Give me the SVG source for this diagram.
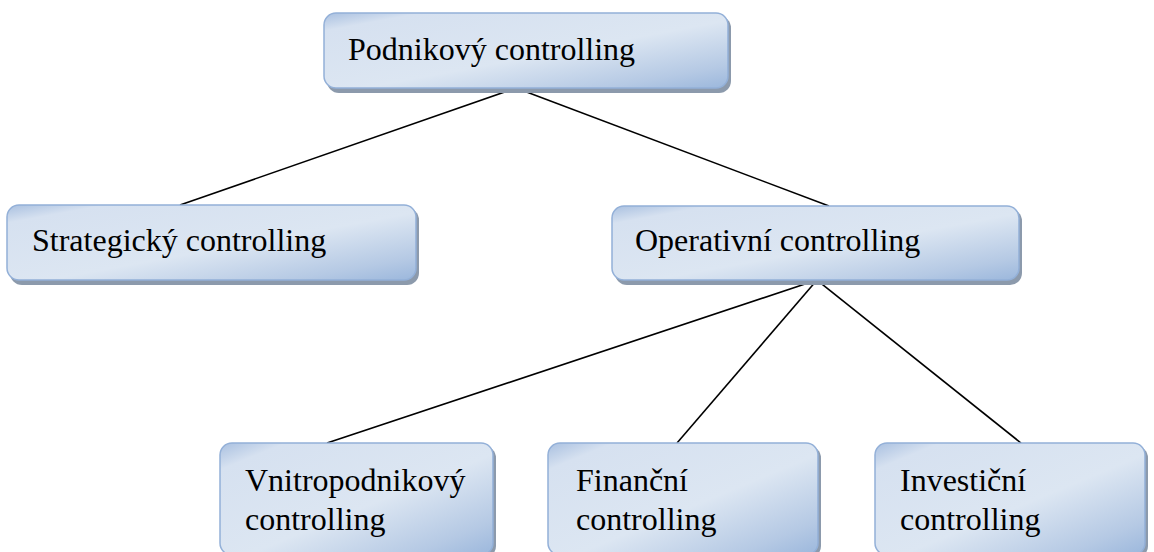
<svg xmlns="http://www.w3.org/2000/svg" width="1154" height="552" viewBox="0 0 1154 552">
<defs>
<linearGradient id="g" x1="0" y1="0" x2="1" y2="1">
<stop offset="0" stop-color="#a9c0e0"/>
<stop offset="0.12" stop-color="#d6e1f0"/>
<stop offset="0.55" stop-color="#dce6f2"/>
<stop offset="0.85" stop-color="#b5c9e4"/>
<stop offset="1" stop-color="#9bb7dc"/>
</linearGradient>
</defs>
<style>
.box{fill:url(#g);stroke:#93b0d8;stroke-width:1.5}
.sh{fill:#8c9aac}
.t{font-family:"Liberation Serif","Times New Roman",serif;font-size:32px;fill:#000}
.c{stroke:#000;stroke-width:1.6;fill:none}
</style>
<g id="connectors">
<line class="c" x1="516" y1="88" x2="180" y2="205"/>
<line class="c" x1="516" y1="88" x2="829" y2="206"/>
<line class="c" x1="817" y1="280" x2="327" y2="443"/>
<line class="c" x1="817" y1="280" x2="677" y2="443"/>
<line class="c" x1="817" y1="280" x2="1021" y2="443"/>
</g>
<g id="n1">
<rect class="sh" x="327" y="16" width="404" height="77" rx="12"/>
<rect class="box" x="324" y="13" width="404" height="75" rx="12"/>
<text class="t" x="348" y="60">Podnikový controlling</text>
</g>
<g id="n2">
<rect class="sh" x="10" y="208" width="409" height="77" rx="12"/>
<rect class="box" x="7" y="205" width="409" height="75" rx="12"/>
<text class="t" x="32" y="251">Strategický controlling</text>
</g>
<g id="n3">
<rect class="sh" x="615" y="209" width="407" height="76" rx="12"/>
<rect class="box" x="612" y="206" width="407" height="74" rx="12"/>
<text class="t" x="635" y="251">Operativní controlling</text>
</g>
<g id="n4">
<rect class="sh" x="223" y="446" width="273" height="112" rx="12"/>
<rect class="box" x="220" y="443" width="273" height="112" rx="12"/>
<text class="t" x="245" y="491">Vnitropodnikový</text>
<text class="t" x="245" y="530">controlling</text>
</g>
<g id="n5">
<rect class="sh" x="551" y="446" width="270" height="112" rx="12"/>
<rect class="box" x="548" y="443" width="270" height="112" rx="12"/>
<text class="t" x="576" y="491">Finanční</text>
<text class="t" x="576" y="530">controlling</text>
</g>
<g id="n6">
<rect class="sh" x="878" y="446" width="270" height="112" rx="12"/>
<rect class="box" x="875" y="443" width="270" height="112" rx="12"/>
<text class="t" x="900" y="491">Investiční</text>
<text class="t" x="900" y="530">controlling</text>
</g>
</svg>
